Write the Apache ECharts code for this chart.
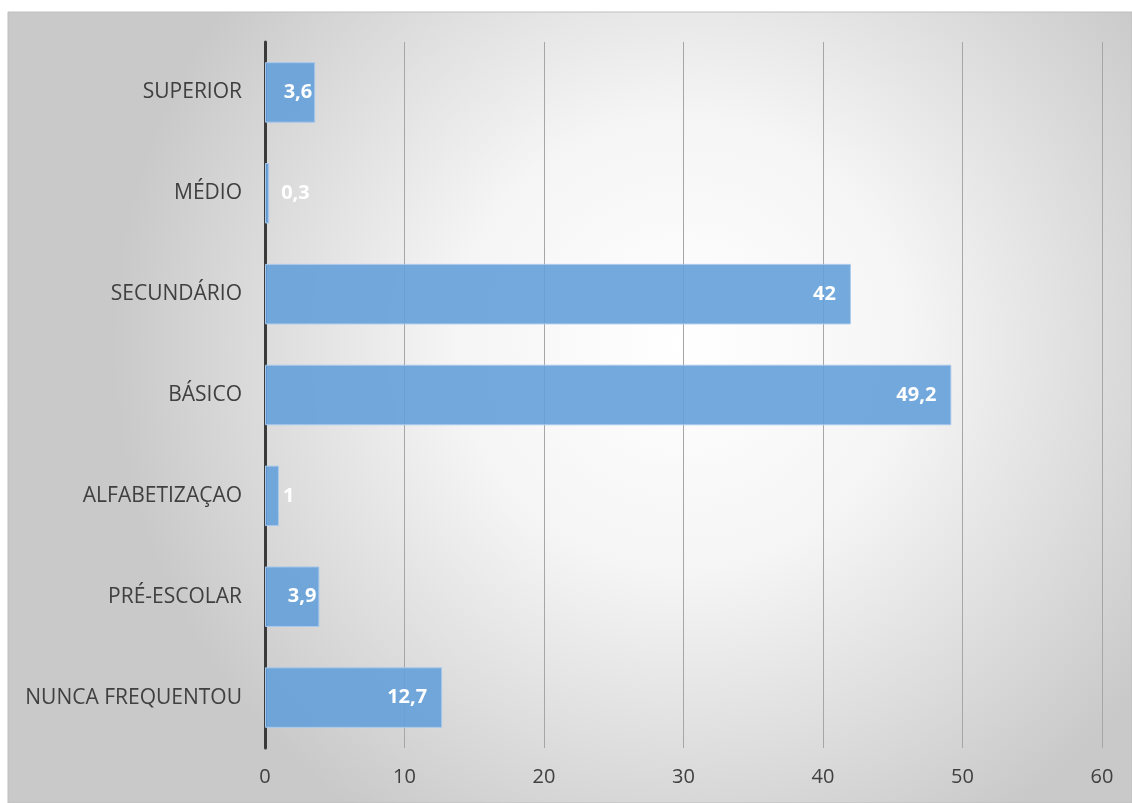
<!DOCTYPE html>
<html>
<head>
<meta charset="utf-8">
<script src="https://cdn.jsdelivr.net/npm/echarts@6/dist/echarts.min.js"></script>
<style>
html,body{margin:0;padding:0;background:#ffffff;}
#chart{width:1132px;height:803px;}
</style>
</head>
<body>
<div id="chart"></div>
<script>
const categories = ['NUNCA FREQUENTOU', 'PRÉ-ESCOLAR', 'ALFABETIZAÇAO', 'BÁSICO', 'SECUNDÁRIO', 'MÉDIO', 'SUPERIOR'];
const values = [12.7, 3.9, 1, 49.2, 42, 0.3, 3.6];
const xTicks = { min: 0, max: 60, interval: 10 };

const FONT = '"Open Sans", "Noto Sans", sans-serif';

function labelFor(v) {
  if (v < 2) return { position: 'right', distance: v < 0.5 ? 12 : 4 };
  if (v < 5) return { position: 'insideRight', distance: 3 };
  return { position: 'insideRight', distance: 15 };
}

const seriesData = values.map(v => ({ value: v, label: labelFor(v) }));

const chart = echarts.init(document.getElementById('chart'), null, { renderer: 'canvas' });
chart.setOption({
  animation: false,
  backgroundColor: '#ffffff',
  graphic: [{
    type: 'rect',
    z: -10,
    silent: true,
    shape: { x: 8, y: 12, width: 1124, height: 791 },
    style: {
      fill: new echarts.graphic.RadialGradient(0.6, 0.42, 0.72, [
        { offset: 0, color: '#ffffff' },
        { offset: 0.4, color: '#f5f5f5' },
        { offset: 1, color: '#c9c9c9' }
      ]),
      stroke: '#bfbfbf',
      lineWidth: 1
    }
  }],
  grid: { left: 265, right: 30, top: 42, bottom: 55, containLabel: false },
  xAxis: {
    type: 'value',
    min: xTicks.min,
    max: xTicks.max,
    interval: xTicks.interval,
    axisLine: { show: false },
    axisTick: { show: false },
    axisLabel: { color: '#404040', fontSize: 20, fontFamily: FONT, margin: 19 },
    splitLine: { show: true, lineStyle: { color: '#a6a6a6', width: 1 } }
  },
  yAxis: {
    type: 'category',
    data: categories,
    axisLine: { show: true, lineStyle: { color: '#3a3a3a', width: 3 } },
    axisTick: { show: false },
    axisLabel: { color: '#404040', fontSize: 21, fontFamily: FONT, margin: 23, padding: [5, 0, 0, 0] }
  },
  series: [{
    type: 'bar',
    data: seriesData,
    barCategoryGap: '40%',
    itemStyle: { color: 'rgba(100,160,216,0.9)', borderColor: '#a9c9ec', borderWidth: 1 },
    label: {
      show: true,
      color: '#ffffff',
      fontSize: 20,
      fontWeight: 'bold',
      fontFamily: FONT,
      formatter: p => String(p.value).replace('.', ',')
    }
  }]
});
</script>
</body>
</html>
